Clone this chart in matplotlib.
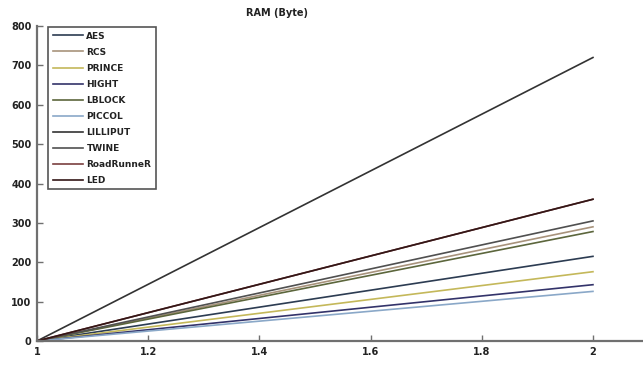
import matplotlib
matplotlib.use("Agg")
import matplotlib.pyplot as plt

# RAM usage (bytes) against x = 1..2, each cipher goes from 0 up to its value
x = [1, 2]
names = ["AES", "RCS", "PRINCE", "HIGHT", "LBLOCK", "PICCOL",
         "LILLIPUT", "TWINE", "RoadRunneR", "LED"]
ram_start = [0, 0, 0, 0, 0, 0, 0, 0, 0, 0]
ram_end = [215, 290, 176, 143, 278, 126, 720, 305, 360, 360]
colors = ["#2c3c52", "#a8937c", "#c4b85a", "#33336a", "#5c663c", "#8aa8c8",
          "#333333", "#505050", "#7a4040", "#331616"]

xticks = [1, 1.2, 1.4, 1.6, 1.8, 2]
xticklabels = ["1", "1.2", "1.4", "1.6", "1.8", "2"]
yticks = [0, 100, 200, 300, 400, 500, 600, 700, 800]

fig = plt.figure(figsize=(6.43, 3.68), dpi=100)
ax = fig.add_axes([37 / 643, 27 / 368, 1 - 37 / 643, 315 / 368])

for n, s, e, c in zip(names, ram_start, ram_end, colors):
    ax.plot(x, [s, e], color=c, lw=1.2, label=n)

ax.set_xlim(1, 2.09)
ax.set_ylim(0, 800)
ax.set_xticks(xticks)
ax.set_xticklabels(xticklabels)
ax.set_yticks(yticks)
for sp in ["top", "right"]:
    ax.spines[sp].set_visible(False)
for sp in ["left", "bottom"]:
    ax.spines[sp].set_color("#707070")
    ax.spines[sp].set_linewidth(1.6)
ax.tick_params(direction="in", length=4, color="#707070", width=1,
               labelsize=7, pad=4)
for lab in ax.get_xticklabels() + ax.get_yticklabels():
    lab.set_fontweight("bold")
    lab.set_color("#222222")

leg = ax.legend(loc="upper left", bbox_to_anchor=(0.013, 1.008),
                borderaxespad=0.4, fontsize=6.5, handlelength=3.3,
                labelspacing=0.78, borderpad=0.5, handletextpad=0.4,
                fancybox=False, framealpha=1)
leg.get_frame().set_edgecolor("#555555")
leg.get_frame().set_linewidth(1.2)
for t in leg.get_texts():
    t.set_fontweight("bold")
    t.set_color("#222222")

fig.text(277 / 643, 1 - 13 / 368, "RAM (Byte)", ha="center", va="center",
         fontsize=7, fontweight="bold", color="#222222")

fig.savefig("out.png", dpi=100)
